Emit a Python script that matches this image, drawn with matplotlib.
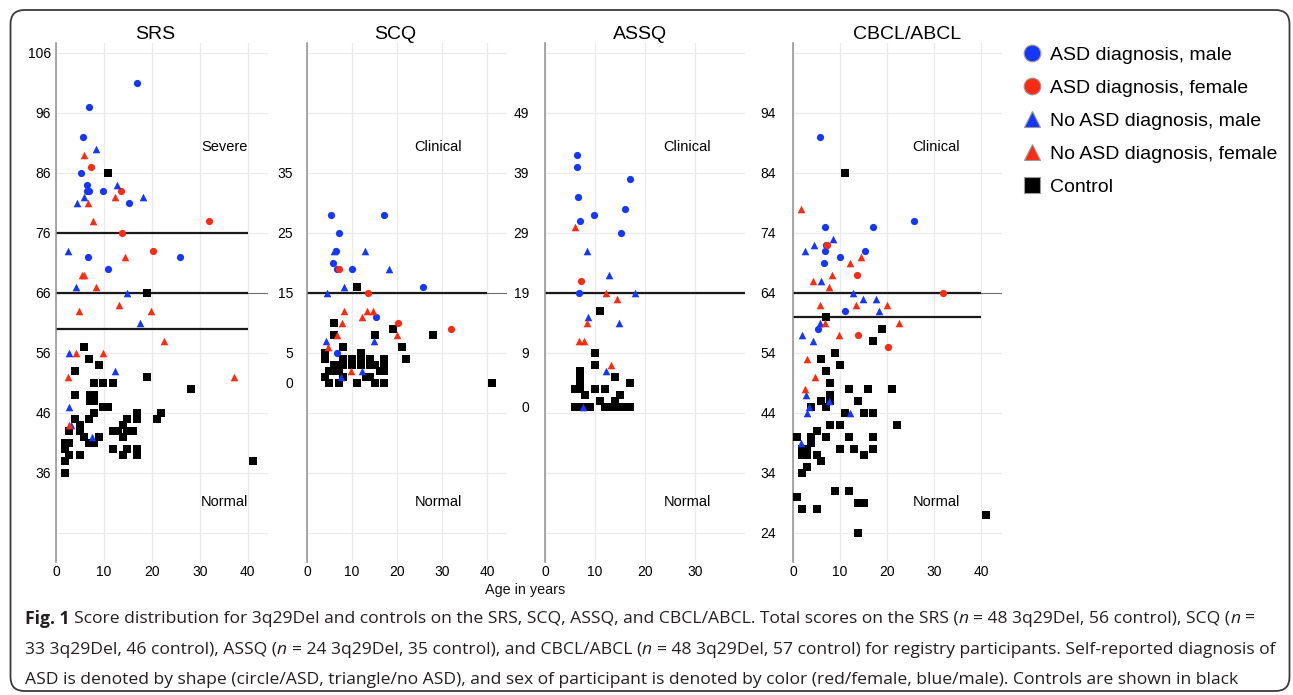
import matplotlib
matplotlib.use("Agg")
import matplotlib.pyplot as plt
from matplotlib.lines import Line2D
from matplotlib.patches import FancyBboxPatch
from matplotlib.ticker import FixedLocator

plt.rcParams['font.family'] = ['Liberation Sans', 'DejaVu Sans']
CAPTION_FONT = ['Open Sans', 'DejaVu Sans']

# ---------------------------------------------------------------- data
group_labels = ["ASD diagnosis, male", "ASD diagnosis, female",
                "No ASD diagnosis, male", "No ASD diagnosis, female", "Control"]
panel_titles = ["SRS", "SCQ", "ASSQ", "CBCL/ABCL"]
age_ticks = [0, 10, 20, 30, 40]
assq_age_ticks = [0, 10, 20, 30]
axis_label = "Age in years"

# (age, score) pairs
srs_asd_male = [(16.9, 101), (6.9, 97), (5.7, 92), (5.3, 86), (6.4, 84), (6.5, 83), (6.9, 83),
                (9.9, 83), (15.2, 81), (6.7, 72), (25.8, 72), (10.9, 70)]
srs_asd_female = [(7.2, 87), (13.5, 83), (31.9, 78), (13.75, 76), (20.2, 73)]
srs_noasd_male = [(8.3, 90), (12.8, 84), (5.9, 82), (4.4, 81), (18.2, 82), (2.4, 73), (4.2, 67),
                  (14.7, 66), (17.6, 61), (2.8, 56), (12.2, 53), (2.8, 47), (3.2, 44), (7.6, 42)]
srs_noasd_female = [(5.9, 89), (12.2, 82), (6.7, 81), (7.8, 78), (14.4, 72), (5.5, 69), (5.9, 69),
                    (8.3, 67), (13.2, 64), (4.7, 63), (19.9, 63), (22.6, 58), (4.2, 56), (9.7, 56),
                    (2.4, 52), (37.1, 52), (2.8, 44)]
srs_control = [(10.9, 86), (19.0, 66), (5.9, 57), (6.9, 55), (8.9, 54), (3.9, 53), (19.0, 52),
               (7.9, 51), (9.9, 51), (11.9, 51), (28.1, 50), (3.9, 49), (7.1, 49), (7.9, 49),
               (7.1, 48), (7.9, 48), (9.9, 47), (10.9, 47), (7.9, 46), (16.9, 46), (21.9, 46),
               (6.9, 45), (16.9, 45), (14.9, 45), (21.0, 45), (3.9, 45), (4.9, 44), (13.9, 44),
               (2.8, 43), (4.9, 43), (11.9, 43), (12.9, 43), (16.0, 43), (14.9, 43), (5.9, 42),
               (8.9, 42), (13.9, 42), (6.9, 41), (7.9, 41), (1.9, 41), (2.8, 41), (1.9, 40),
               (11.9, 40), (14.9, 40), (16.9, 40), (2.8, 39), (4.9, 39), (13.9, 39), (16.9, 39),
               (1.9, 38), (41.1, 38), (1.9, 36)]

scq_asd_male = [(5.3, 28), (17.0, 28), (7.0, 25), (6.4, 22), (5.7, 20), (6.6, 19), (9.9, 19),
                (25.8, 16), (15.3, 11), (6.7, 5)]
scq_asd_female = [(7.2, 19), (13.5, 15), (20.1, 10), (32.0, 9)]
scq_noasd_male = [(6.0, 22), (12.8, 22), (18.1, 19), (8.3, 16), (4.5, 15), (4.2, 7), (14.8, 7),
                  (12.1, 2), (7.6, 1)]
scq_noasd_female = [(8.3, 12), (12.1, 11), (13.4, 12), (14.6, 12), (7.8, 10), (6.7, 8), (19.9, 8),
                    (4.7, 6), (9.7, 2)]
scq_control = [(11.0, 16), (5.9, 10), (19.0, 9), (5.9, 8), (15.0, 8), (28.0, 8), (7.9, 6),
               (21.1, 6), (22.0, 4), (41.1, 0), (3.9, 5), (3.9, 4), (3.9, 1), (4.9, 2), (4.9, 0),
               (5.9, 3), (5.9, 2), (7.0, 3), (7.0, 2), (7.0, 0), (7.9, 4), (7.9, 3), (7.9, 1),
               (9.9, 4), (9.9, 3), (11.0, 0), (11.9, 5), (11.9, 4), (11.9, 3), (13.0, 1),
               (14.0, 4), (14.0, 3), (14.0, 1), (15.0, 3), (15.0, 0), (16.1, 2), (17.0, 4),
               (17.0, 3), (17.0, 2), (17.0, 0)]

assq_asd_male = [(6.4, 42), (6.4, 40), (16.9, 38), (6.6, 35), (16.0, 33), (9.8, 32), (7.0, 31),
                 (15.1, 29), (6.7, 19)]
assq_asd_female = [(7.2, 21)]
assq_noasd_male = [(8.3, 26), (12.7, 22), (18.0, 19), (8.5, 15), (14.7, 14), (12.1, 6), (7.5, 0)]
assq_noasd_female = [(5.9, 30), (12.1, 19), (14.4, 18), (8.3, 14), (6.7, 11), (7.8, 11), (13.2, 7)]
assq_control = [(10.9, 16), (9.9, 9), (9.9, 7), (6.9, 6), (6.9, 5), (13.9, 5), (16.9, 4),
                (6.9, 4), (5.9, 3), (6.9, 3), (9.9, 3), (11.9, 3), (7.9, 2), (14.9, 2), (10.9, 1),
                (13.9, 1), (5.9, 0), (6.9, 0), (7.9, 0), (8.9, 0), (11.9, 0), (12.9, 0), (13.9, 0),
                (14.9, 0), (15.9, 0), (16.9, 0)]

cbcl_asd_male = [(5.7, 90), (25.7, 76), (6.8, 75), (17.0, 75), (7.1, 72), (6.7, 71), (15.2, 71),
                 (9.9, 70), (6.5, 69), (11.0, 61), (5.4, 58)]
cbcl_asd_female = [(7.3, 72), (13.5, 67), (31.8, 64), (13.8, 57), (20.2, 55)]
cbcl_noasd_male = [(8.4, 73), (4.5, 72), (2.5, 71), (5.9, 66), (12.8, 64), (14.8, 63), (17.6, 63),
                   (18.2, 61), (5.8, 59), (2.0, 57), (4.3, 56), (2.8, 47), (7.6, 46), (3.4, 45),
                   (2.9, 44), (12.2, 44), (1.8, 39)]
cbcl_noasd_female = [(1.8, 78), (14.5, 70), (12.1, 69), (8.2, 67), (4.2, 66), (7.7, 65), (5.7, 62),
                     (13.3, 62), (19.9, 62), (6.9, 59), (22.6, 59), (9.7, 57), (2.9, 53), (4.7, 50),
                     (2.5, 48)]
cbcl_control = [(11.0, 84), (7.0, 60), (19.0, 58), (17.0, 56), (9.0, 54), (6.0, 53), (9.9, 52),
                (7.0, 51), (7.9, 49), (12.0, 48), (16.0, 48), (21.0, 48), (7.9, 47), (6.0, 46),
                (7.9, 46), (13.9, 46), (3.9, 45), (7.0, 45), (11.0, 44), (15.0, 44), (17.0, 44),
                (7.9, 42), (9.9, 42), (22.0, 42), (5.0, 41), (0.9, 40), (3.9, 40), (7.0, 40),
                (12.0, 40), (17.0, 40), (3.9, 39), (1.9, 38), (2.9, 38), (9.9, 38), (13.0, 38),
                (17.0, 38), (1.9, 37), (2.9, 37), (5.0, 37), (15.0, 37), (6.0, 36), (2.9, 35),
                (1.9, 34), (9.0, 31), (12.0, 31), (0.9, 30), (13.9, 29), (15.0, 29), (1.9, 28),
                (5.0, 28), (41.0, 27), (13.9, 24)]

srs_yticks = [106, 96, 86, 76, 66, 56, 46, 36]
scq_yticks = [35, 25, 15, 5, 0]
assq_yticks = [49, 39, 29, 19, 9, 0]
cbcl_yticks = [94, 84, 74, 64, 54, 44, 34, 24]

srs_cutoffs = [76, 66, 60]
scq_cutoffs = [15]
assq_cutoffs = [19]
cbcl_cutoffs = [64, 60]

# score aligned across panels (same height on the page)
panel_bases = [66, 15, 19, 64]
region_labels = [("Severe", "Normal"), ("Clinical", "Normal"),
                 ("Clinical", "Normal"), ("Clinical", "Normal")]

panel_groups = [
    [srs_asd_male, srs_asd_female, srs_noasd_male, srs_noasd_female, srs_control],
    [scq_asd_male, scq_asd_female, scq_noasd_male, scq_noasd_female, scq_control],
    [assq_asd_male, assq_asd_female, assq_noasd_male, assq_noasd_female, assq_control],
    [cbcl_asd_male, cbcl_asd_female, cbcl_noasd_male, cbcl_noasd_female, cbcl_control],
]
panel_yticks = [srs_yticks, scq_yticks, assq_yticks, cbcl_yticks]
panel_cutoffs = [srs_cutoffs, scq_cutoffs, assq_cutoffs, cbcl_cutoffs]
panel_xticks = [age_ticks, age_ticks, assq_age_ticks, age_ticks]

caption_lines = [
    [("Fig. 1", dict(fontweight='bold')),
     (" Score distribution for 3q29Del and controls on the SRS, SCQ, ASSQ, and CBCL/ABCL. Total scores on the SRS (", {}),
     ("n", dict(fontstyle='italic')),
     (" = 48 3q29Del, 56 control), SCQ (", {}),
     ("n", dict(fontstyle='italic')),
     (" =", {})],
    [("33 3q29Del, 46 control), ASSQ (", {}),
     ("n", dict(fontstyle='italic')),
     (" = 24 3q29Del, 35 control), and CBCL/ABCL (", {}),
     ("n", dict(fontstyle='italic')),
     (" = 48 3q29Del, 57 control) for registry participants. Self-reported diagnosis of", {})],
    [("ASD is denoted by shape (circle/ASD, triangle/no ASD), and sex of participant is denoted by color (red/female, blue/male). Controls are shown in black", {})],
]

# ---------------------------------------------------------------- styling / layout
W, H = 1293, 695
BLUE = "#1536fb"
RED = "#fb2a12"
group_styles = [('o', BLUE, 27), ('o', RED, 27), ('^', BLUE, 30), ('^', RED, 30), ('s', 'black', 29)]

TOP_PX, BOT_PX, BASE_PX = 43, 562, 293
PX_PER_UNIT = 6.0
# left px, width px, x max, y label pad px, title x (axes fraction), region label x (data)
panel_layout = [
    (56, 212, 44.2, 5, 0.467, 35.2),
    (307, 200, 44.4, 14, 0.44, 29.1),
    (545, 200, 40.0, 16, 0.475, 28.4),
    (793, 209, 44.4, 17, 0.545, 30.4),
]
GRID = '#ebebeb'

fig = plt.figure(figsize=(W / 100, H / 100), dpi=100)
fig.patch.set_facecolor('white')

for i in range(4):
    left, width, xmax, ypad, title_x, lab_x = panel_layout[i]
    base = panel_bases[i]
    ax = fig.add_axes([left / W, 1 - BOT_PX / H, width / W, (BOT_PX - TOP_PX) / H])
    ylo = base - (BOT_PX - BASE_PX) / PX_PER_UNIT
    yhi = base + (BASE_PX - TOP_PX) / PX_PER_UNIT
    ax.set_xlim(0, xmax)
    ax.set_ylim(ylo, yhi)
    ax.set_yticks(panel_yticks[i])
    ax.yaxis.set_minor_locator(FixedLocator([base + 10 * k for k in range(-4, 5)]))
    ax.yaxis.remove_overlapping_locs = False
    ax.set_xticks(panel_xticks[i])
    ax.grid(True, which='minor', axis='y', color=GRID, lw=0.9)
    ax.grid(True, which='major', axis='x', color=GRID, lw=0.9)
    ax.grid(False, which='major', axis='y')
    ax.set_axisbelow(True)
    ax.tick_params(which='both', length=0)
    ax.tick_params(axis='y', pad=ypad * 0.72, labelsize=10)
    ax.tick_params(axis='x', pad=2.5, labelsize=10)
    for s in ['top', 'right', 'bottom']:
        ax.spines[s].set_visible(False)
    ax.spines['left'].set_color('#8f8f8f')
    ax.spines['left'].set_linewidth(1.1)

    ax.axhline(base, color='#707070', lw=0.8, zorder=1)
    for c in panel_cutoffs[i]:
        ax.hlines(c, 0, 40, color='#1a1a1a', lw=1.6, zorder=2)

    ax.set_title(panel_titles[i], fontsize=14, pad=3, x=title_x)
    ax.text(lab_x, base + (BASE_PX - 147) / PX_PER_UNIT, region_labels[i][0],
            ha='center', va='center', fontsize=10.5)
    ax.text(lab_x, base - (502 - BASE_PX) / PX_PER_UNIT, region_labels[i][1],
            ha='center', va='center', fontsize=10.5)

    for gi in [4, 0, 1, 2, 3]:
        pts = panel_groups[i][gi]
        m, col, sz = group_styles[gi]
        ax.scatter([p[0] for p in pts], [p[1] for p in pts], marker=m, c=col, s=sz,
                   linewidths=0, zorder=3, clip_on=False)

# legend
handles = [Line2D([], [], ls='none', marker=m, markersize=12, markerfacecolor=c,
                  markeredgecolor='#9a9a9a', markeredgewidth=0.8)
           for (m, c, _) in group_styles]
fig.legend(handles, group_labels, loc='upper left', bbox_to_anchor=(1022 / W, 1 - 46 / H),
           frameon=False, fontsize=14, handlelength=1.0, handletextpad=0.45,
           labelspacing=0.8, borderpad=0, borderaxespad=0)

# rounded frame
box = FancyBboxPatch((10.5, 4), 1279, 681, boxstyle="round,pad=0,rounding_size=14",
                     transform=None, fill=False, edgecolor='#3a3a3a', lw=1.3)
fig.add_artist(box)

# caption text with mixed styles
renderer = fig.canvas.get_renderer()


def text_width(txt, size, family=CAPTION_FONT, **kw):
    t = fig.text(0, 0, txt, fontsize=size, family=family, **kw)
    w = t.get_window_extent(renderer).width
    t.remove()
    return w


def place_line(y_px, segs, size, x0=25.0, draw=True):
    x = x0
    for txt, kw in segs:
        lead = len(txt) - len(txt.lstrip(' '))
        if lead:
            sp = text_width("a a", size, **kw) - text_width("aa", size, **kw)
            x += lead * sp
        body = txt.lstrip(' ')
        t = fig.text(x / W, 1 - y_px / H, body, fontsize=size, family=CAPTION_FONT,
                     va='center', ha='left', color='#231f20', **kw)
        x += t.get_window_extent(renderer).width
        if not draw:
            t.remove()
    return x - x0


base_size = 13.0
widths = [place_line(619, segs, base_size, draw=False) for segs in caption_lines[:2]]
cap_size = base_size * 1240.0 / max(widths)
for y_px, segs in zip([619, 650, 680], caption_lines):
    place_line(y_px, segs, cap_size)

wl = text_width(axis_label, 10.0, family=['Liberation Sans', 'DejaVu Sans'])
fig.text(525 / W, 1 - 590 / H, axis_label, fontsize=10.0 * 80.0 / wl,
         family=['Liberation Sans', 'DejaVu Sans'], ha='center', va='center', color='#111111')

fig.savefig("out.png", dpi=100)
